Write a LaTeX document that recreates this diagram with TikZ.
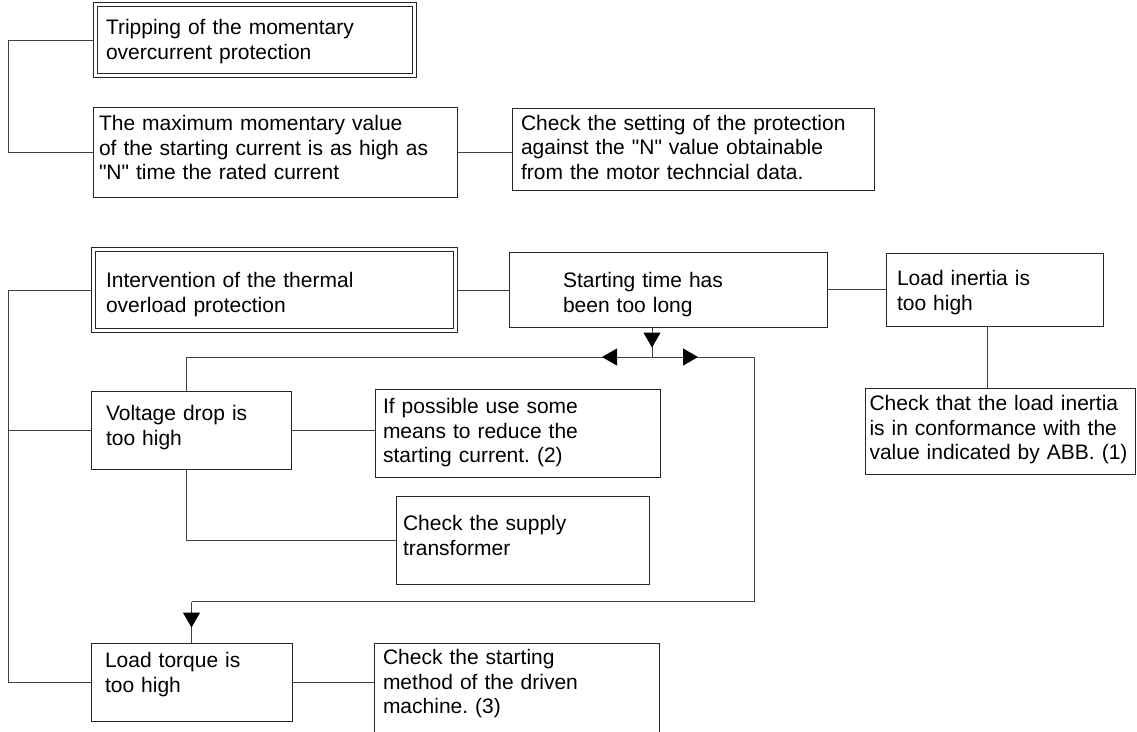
\documentclass[tikz,border=0pt]{standalone}
\usepackage{fontspec}
\setmainfont{Liberation Sans}
\usetikzlibrary{arrows.meta, decorations.markings}
\frenchspacing

\begin{document}
\begin{tikzpicture}[
    x=1pt, y=-1pt,
    box/.style={draw=black!85, line width=1pt, rectangle, inner sep=0pt, align=left,
                font=\fontsize{21}{24.5}\selectfont},
    dbox/.style={box, double, double distance=3.5pt, outer sep=2.75pt},
    wire/.style={draw=black!75, line width=1pt},
    tipat/.style={postaction={decorate}, decoration={markings,
        mark=at position #1 with {\arrow[black]{Triangle[length=15pt, width=17pt]}}}}
]
\clip (0,0) rectangle (1137,731);

% Momentary overcurrent
\node[dbox, minimum width=319, minimum height=71, text width=298pt, text height=30pt, text depth=41pt]
    (trip) at (255,40) {Tripping of the momentary\\overcurrent protection};
\node[box, minimum width=364, minimum height=90, text width=352pt, text height=23.5pt, text depth=66.5pt]
    (maxval) at (275,152) {The maximum momentary value\\of the starting current is as high as\\\textquotedbl N\textquotedbl{} time the rated current};
\node[box, minimum width=362, minimum height=82, text width=344pt, text height=21.5pt, text depth=60.5pt]
    (setting) at (693,149.5) {Check the setting of the protection\\against the \textquotedbl N\textquotedbl{} value obtainable\\from the motor techncial data.};

% Thermal overload
\node[dbox, minimum width=362, minimum height=81, text width=337pt, text height=38pt, text depth=43pt]
    (therm) at (274.5,290) {Intervention of the thermal\\overload protection};
\node[box, minimum width=318, minimum height=75, text width=210pt, text height=35.5pt, text depth=39.5pt]
    (start) at (668,289.5) {Starting time has\\been too long};
\node[box, minimum width=217, minimum height=73, text width=195pt, text height=32.5pt, text depth=40.5pt]
    (inertia) at (994.5,289.5) {Load inertia is\\too high};
\node[box, minimum width=270, minimum height=86, text width=261pt, text height=22.5pt, text depth=63.5pt]
    (checkin) at (1000,431) {Check that the load inertia\\is in conformance with the\\value~indicated~by~ABB.~(1)};

% Voltage drop
\node[box, minimum width=200, minimum height=78, text width=170pt, text height=29.5pt, text depth=48.5pt]
    (volt) at (191,430) {Voltage drop is\\too high};
\node[box, minimum width=285, minimum height=88, text width=269pt, text height=24.5pt, text depth=63.5pt]
    (reduce) at (517.5,433) {If possible use some\\means to reduce the\\starting current. (2)};
\node[box, minimum width=253, minimum height=88, text width=239pt, text height=34.5pt, text depth=53.5pt]
    (supply) at (522.5,540) {Check the supply\\transformer};

% Load torque
\node[box, minimum width=201, minimum height=78, text width=173pt, text height=24.5pt, text depth=53.5pt]
    (torque) at (191.5,682) {Load torque is\\too high};
\node[box, minimum width=285, minimum height=127, text width=267pt, text height=21.5pt, text depth=105.5pt]
    (method) at (516.5,706.5) {Check the starting\\method of the driven\\machine. (3)};

\coordinate (lx) at (8,0);
\coordinate (jn) at (652,357);
\coordinate (rt) at (754,357);
\coordinate (lb) at ([yshift=41pt]torque.north);
\coordinate (vt) at ([xshift=-5pt]volt.north);
\coordinate (vb) at ([xshift=-5pt]volt.south);
\coordinate (ib) at ([xshift=-7pt]inertia.south);

% Connectors
\draw[wire] (trip.west) -- (trip.west -| lx) |- (maxval.west);
\draw[wire] (maxval.east) -- (maxval.east -| setting.west);
\draw[wire] (therm.west) -- (therm.west -| lx) |- (torque.west);
\draw[wire] (volt.west) -- (volt.west -| lx);
\draw[wire] (therm.east) -- (therm.east -| start.west);
\draw[wire] (start.east) -- (start.east -| inertia.west);
\draw[wire] (ib) -- (ib |- checkin.north);
\draw[wire] (volt.east) -- (volt.east -| reduce.west);
\draw[wire] (vb) |- (supply.west);
\draw[wire] (torque.east) -- (torque.east -| method.west);

% Arrows from the junction
\draw[wire, tipat=20pt] (jn |- start.south) -- (jn);
\draw[wire, tipat=50pt] (jn) -- (jn -| vt) -- (vt);
\draw[wire, tipat=46pt] (jn) -- (rt);
\draw[wire] (rt) |- (lb);
\draw[wire, tipat=26pt] (lb) -- (torque.north);

\end{tikzpicture}
\end{document}
